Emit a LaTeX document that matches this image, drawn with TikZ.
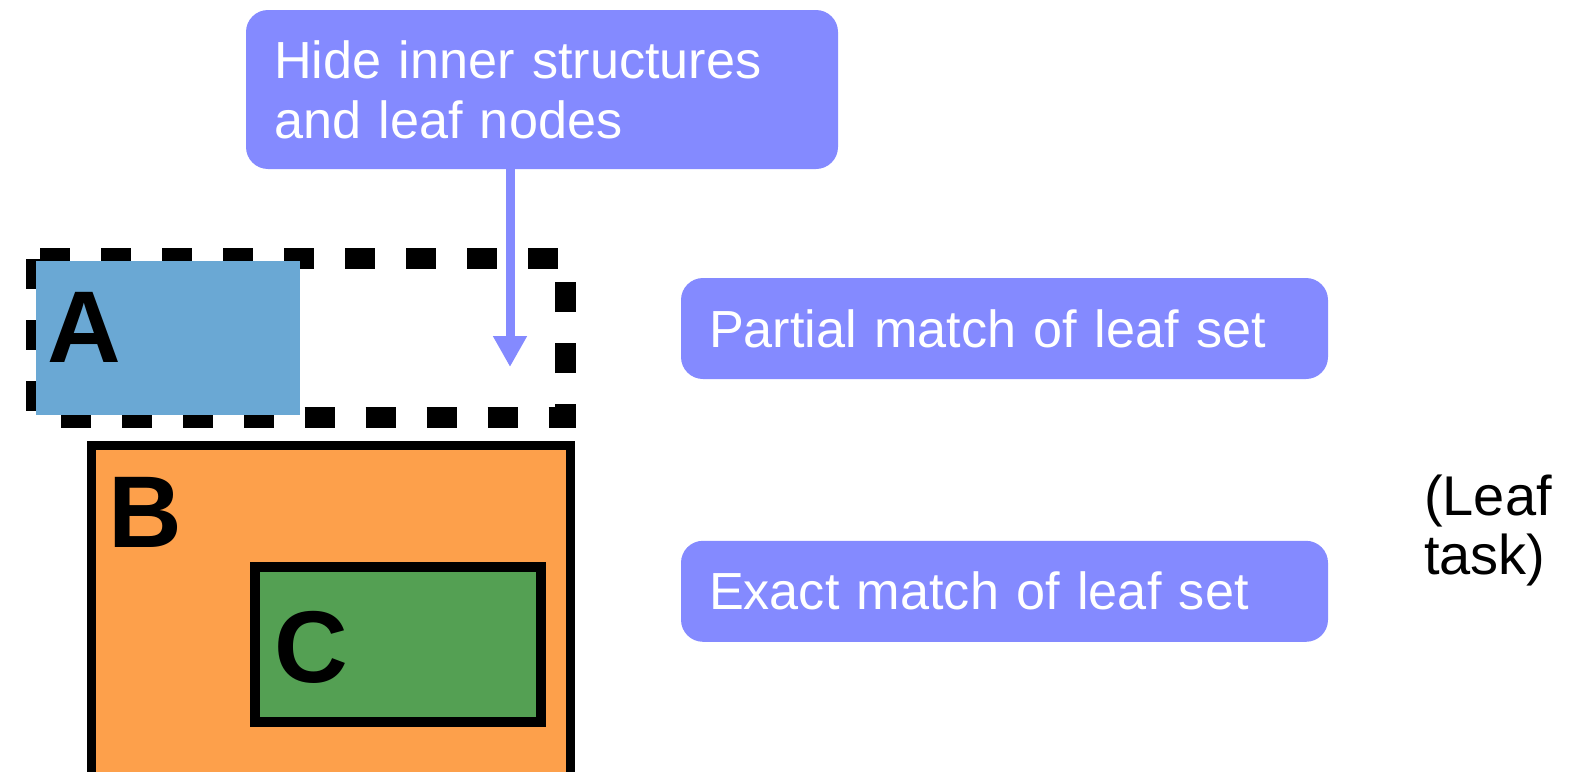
\documentclass[tikz,border=0pt]{standalone}
\usepackage{fontspec}
\setmainfont{Liberation Sans}
\usepackage{xcolor}
\usetikzlibrary{arrows.meta,positioning}

\definecolor{noteblue}{HTML}{848AFF}
\definecolor{fillA}{HTML}{6AA8D4}
\definecolor{fillB}{HTML}{FDA04B}
\definecolor{fillC}{HTML}{54A053}

\begin{document}
\begin{tikzpicture}[
    x=0.5pt, y=-0.5pt,
    node distance=80.5pt,
    note/.style={rectangle, rounded corners=11pt, fill=noteblue, text=white, align=left, inner xsep=14pt, inner ysep=0pt, font=\fontsize{26.1}{30}\selectfont},
    letter/.style={inner sep=0pt, font=\bfseries\fontsize{51}{51}\selectfont},
    arrow/.style={-{Triangle[length=15.5pt, width=16pt]}, line width=4.5pt, draw=noteblue},
]
    \useasboundingbox (0,0) rectangle (1595,771);
    \clip (0,0) rectangle (1595,771);

    % callout boxes
    \node[note, text width=268pt, minimum height=79.5pt] (hide) at (542,89.5) {Hide inner structures\\and leaf nodes};
    \node[note, text width=295.5pt, minimum height=50.5pt] (partial) at (1004.5,328.5) {Partial match of leaf set};
    \node[note, text width=295.5pt, minimum height=50.5pt, below=of partial] (exact) {Exact match of leaf set};
    \node[align=left, inner sep=0pt, font=\fontsize{28}{29.5}\selectfont] (leaf) at (1488,530) {(Leaf\\task)};

    % nested regions
    \draw[line width=10.5pt, dash pattern=on 15pt off 15.5pt] (36.5,258.5) rectangle (565,417.5);
    \fill[fillA] (36,261) rectangle (300,415);
    \draw[fill=fillB, line width=4.5pt] (91.5,445.5) rectangle (570.5,800);
    \draw[fill=fillC, line width=5pt] (255,567) rectangle (540.5,722);
    \node[letter] (A) at (84,327) {A};
    \node[letter] (B) at (145,512) {B};
    \node[letter] (C) at (311,647) {C};

    \coordinate (tip) at (510,367);
    \draw[arrow] (hide.south -| tip) -- (tip);
\end{tikzpicture}
\end{document}
